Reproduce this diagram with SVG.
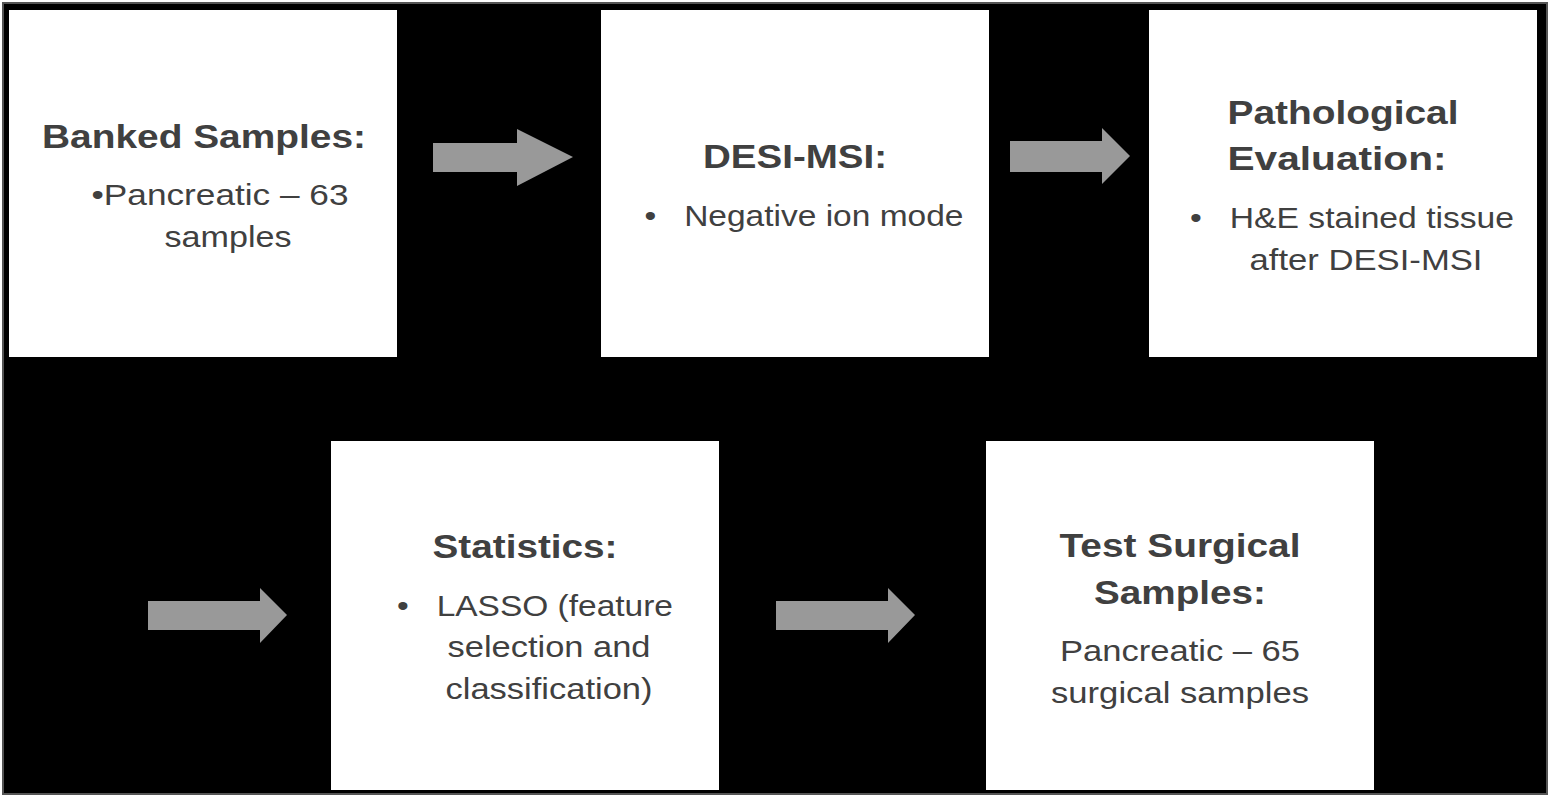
<svg xmlns="http://www.w3.org/2000/svg" width="1551" height="800" viewBox="0 0 1551 800">
<style>
.box{fill:#fff}
.t{font-family:"Liberation Sans",Arial,sans-serif;fill:#404040;text-anchor:middle}
.h{font-size:33px;font-weight:bold}
.b{font-size:29px}
.arr{fill:#999}
</style>
<rect width="1551" height="800" fill="#fff"/>
<rect x="3" y="3" width="1544" height="791" fill="#000" stroke="#555" stroke-width="2"/>
<g id="n1"><rect class="box" x="9" y="10" width="388" height="347"/>
<text class="t h" x="204" y="148" textLength="324" lengthAdjust="spacingAndGlyphs">Banked Samples:</text>
<text class="t b" x="220" y="205" textLength="257" lengthAdjust="spacingAndGlyphs">•Pancreatic – 63</text>
<text class="t b" x="228" y="247" textLength="127" lengthAdjust="spacingAndGlyphs">samples</text></g>
<g id="n2"><rect class="box" x="601" y="10" width="388" height="347"/>
<text class="t h" x="795" y="168" textLength="184" lengthAdjust="spacingAndGlyphs">DESI-MSI:</text>
<text class="t b" x="804" y="226" textLength="319" lengthAdjust="spacingAndGlyphs" xml:space="preserve">•   Negative ion mode</text></g>
<g id="n3"><rect class="box" x="1149" y="10" width="388" height="347"/>
<text class="t h" x="1343" y="124" textLength="231" lengthAdjust="spacingAndGlyphs">Pathological</text>
<text class="t h" x="1337" y="170" textLength="219" lengthAdjust="spacingAndGlyphs">Evaluation:</text>
<text class="t b" x="1352" y="228" textLength="324" lengthAdjust="spacingAndGlyphs" xml:space="preserve">•   H&amp;E stained tissue</text>
<text class="t b" x="1366" y="270" textLength="233" lengthAdjust="spacingAndGlyphs">after DESI-MSI</text></g>
<g id="n4"><rect class="box" x="331" y="441" width="388" height="349"/>
<text class="t h" x="525" y="558" textLength="185" lengthAdjust="spacingAndGlyphs">Statistics:</text>
<text class="t b" x="535" y="616" textLength="276" lengthAdjust="spacingAndGlyphs" xml:space="preserve">•   LASSO (feature</text>
<text class="t b" x="549" y="657" textLength="203" lengthAdjust="spacingAndGlyphs">selection and</text>
<text class="t b" x="549" y="699" textLength="207" lengthAdjust="spacingAndGlyphs">classification)</text></g>
<g id="n5"><rect class="box" x="986" y="441" width="388" height="349"/>
<text class="t h" x="1180" y="557" textLength="241" lengthAdjust="spacingAndGlyphs">Test Surgical</text>
<text class="t h" x="1180" y="604" textLength="172" lengthAdjust="spacingAndGlyphs">Samples:</text>
<text class="t b" x="1180" y="661" textLength="240" lengthAdjust="spacingAndGlyphs">Pancreatic – 65</text>
<text class="t b" x="1180" y="703" textLength="258" lengthAdjust="spacingAndGlyphs">surgical samples</text></g>
<g id="connectors">
<polygon class="arr" points="433,143 517,143 517,129 573,157 517,186 517,172 433,172"/>
<polygon class="arr" points="1010,141 1102,141 1102,128 1130,156 1102,184 1102,172 1010,172"/>
<polygon class="arr" points="148,601 260,601 260,588 287,615 260,643 260,630 148,630"/>
<polygon class="arr" points="776,601 888,601 888,588 915,615 888,643 888,630 776,630"/>
</g>
</svg>
